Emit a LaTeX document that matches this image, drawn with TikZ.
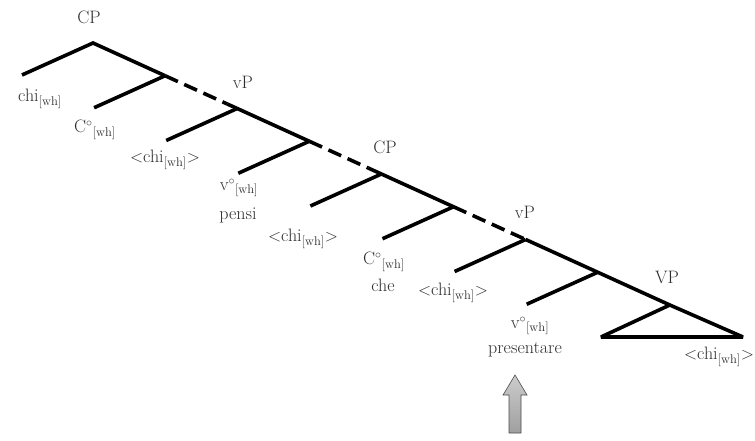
\documentclass[tikz,border=0pt]{standalone}
\usetikzlibrary{calc}
\newcommand{\hdwh}[1]{#1\textsuperscript{\large$\circ$}\textsubscript{[wh]}}
\newcommand{\chiwh}{chi\textsubscript{[wh]}}
\newcommand{\tchiwh}{$<$chi\textsubscript{[wh]}$>$}
\begin{document}
\begin{tikzpicture}[x=1pt,y=-1pt,
  br/.style={line width=3.6pt, line join=miter},
  dsh/.style={br, dash pattern=on 14pt off 7pt},
  lbl/.style={text=black!82, font=\fontsize{18}{20}\selectfont, inner sep=0pt}]
\useasboundingbox (0,0) rectangle (755,441);
\foreach \i in {0,...,8} \coordinate (A\i) at ({93+72.1*\i},{43+32.75*\i});
\foreach \i in {0,...,7} \coordinate (L\i) at ({22+72.1*\i},{75+32.75*\i});
\coordinate (TL) at (601,337);
\coordinate (TR) at (743,337);
\coordinate (D1) at ($(A1)!0.86!(A2)$);
\coordinate (D3) at ($(A3)!0.82!(A4)$);
% spine
\draw[br] (L0) -- (A0) -- (A1);
\draw[dsh] (A1) -- (D1);
\draw[br] (D1) -- (A2) -- (A3);
\draw[dsh] (A3) -- (D3);
\draw[br] (D3) -- (A4) -- (A5);
\draw[dsh] (A5) -- (A6);
\draw[br] (A6) -- (A7) -- (A8);
% left branches
\foreach \i in {1,...,7} \draw[br] (A\i) -- (L\i);
% triangle
\draw[br, line join=bevel] (A8) -- (TR) -- (TL) -- cycle;
% labels
\node[lbl] (cp1) at (89,17) {CP};
\node[lbl] (chi0) at (40,99) {\chiwh};
\node[lbl] (c1) at (95,130) {\hdwh{C}};
\node[lbl] (vp1) at (243,82) {vP};
\node[lbl] (chi1) at (165,160) {\tchiwh};
\node[lbl] (v1) at (239,188) {\hdwh{v}};
\node[lbl] (pensi) at (238,215) {pensi};
\node[lbl] (cp2) at (385,147) {CP};
\node[lbl] (chi2) at (303,239) {\tchiwh};
\node[lbl] (c2) at (384,262) {\hdwh{C}};
\node[lbl] (che) at (383,285) {che};
\node[lbl] (vp2) at (525,212) {vP};
\node[lbl] (chi3) at (453,293) {\tchiwh};
\node[lbl] (VP) at (667,277) {VP};
\node[lbl] (v2) at (530,326) {\hdwh{v}};
\node[lbl] (pres) at (525,350) {presentare};
\node[lbl] (chi4) at (719,357) {\tchiwh};
% gray arrow
\draw[draw=gray!60!black, line width=0.6pt, top color=gray!40, bottom color=gray!75]
  (509,433) -- (509,395) -- (503,395) -- (515,375) -- (527,395) -- (521,395) -- (521,433) -- cycle;
\end{tikzpicture}
\end{document}
